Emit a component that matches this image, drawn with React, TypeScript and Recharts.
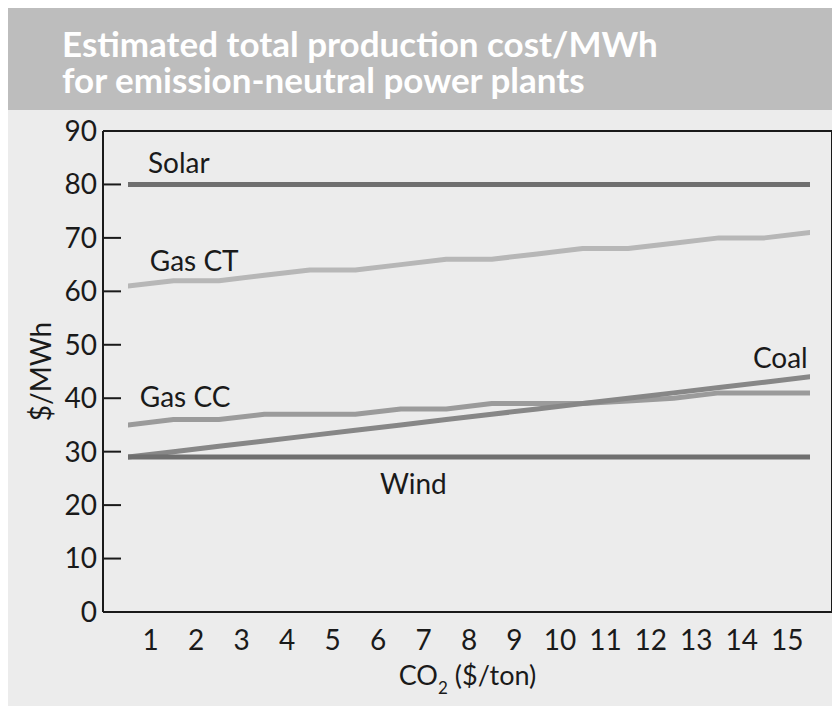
import React from 'react';
import { LineChart, Line, XAxis, YAxis, ReferenceDot } from 'recharts';

// x positions of the plotted points (one per tick mark)
const co2Steps = [0, 1, 2, 3, 4, 5, 6, 7, 8, 9, 10, 11, 12, 13, 14, 15];
// tick labels sit between the tick marks
const xTickLabels = ['1', '2', '3', '4', '5', '6', '7', '8', '9', '10', '11', '12', '13', '14', '15'];
const yTicks = [0, 10, 20, 30, 40, 50, 60, 70, 80, 90];

const solar = [80, 80, 80, 80, 80, 80, 80, 80, 80, 80, 80, 80, 80, 80, 80, 80];
const gasCT = [61, 62, 62, 63, 64, 64, 65, 66, 66, 67, 68, 68, 69, 70, 70, 71];
const gasCC = [35, 36, 36, 37, 37, 37, 38, 38, 39, 39, 39, 39.5, 40, 41, 41, 41];
const coal = [29, 30, 31, 32, 33, 34, 35, 36, 37, 38, 39, 40, 41, 42, 43, 44];
const wind = [29, 29, 29, 29, 29, 29, 29, 29, 29, 29, 29, 29, 29, 29, 29, 29];

// series names written on the chart, in data units
const annotations = [
  { text: 'Solar', x: 0.44, y: 84, side: 'right' },
  { text: 'Gas CT', x: 0.48, y: 65.7, side: 'right' },
  { text: 'Gas CC', x: 0.26, y: 40.2, side: 'right' },
  { text: 'Coal', x: 14.95, y: 47.6, side: 'left' },
  { text: 'Wind', x: 5.54, y: 23.9, side: 'right' },
];

const data = co2Steps.map((step, i) => ({
  step,
  solar: solar[i],
  gasCT: gasCT[i],
  gasCC: gasCC[i],
  coal: coal[i],
  wind: wind[i],
}));

const labelTicks = xTickLabels.map((_, i) => i + 0.5);

const INK = '#1a1a1a';
const axisStroke = { stroke: INK, strokeWidth: 2 };
const xPadding = { left: 25, right: 22 };

export default function App() {
  return (
    <div
      style={{
        position: 'relative',
        width: 832,
        height: 698,
        background: '#ececec',
        fontFamily: 'Lato, sans-serif',
        overflow: 'hidden',
      }}
    >
      <div style={{ position: 'absolute', left: 0, top: 0, width: 832, height: 102, background: '#bdbdbd' }} />
      <div
        style={{
          position: 'absolute',
          left: 54,
          top: 17,
          color: '#ffffff',
          fontWeight: 700,
          fontSize: 35,
          lineHeight: '36px',
          whiteSpace: 'nowrap',
        }}
      >
        Estimated total production cost/MWh
        <br />
        for emission-neutral power plants
      </div>
      <div style={{ position: 'absolute', left: 0, top: 102 }}>
        <LineChart width={832} height={596} data={data} margin={{ top: 20, right: 7, bottom: 33, left: 94 }}>
          <XAxis
            dataKey="step"
            type="number"
            domain={[0, 15]}
            ticks={co2Steps}
            padding={xPadding}
            height={1}
            tick={false}
            tickSize={-12}
            tickLine={axisStroke}
            axisLine={axisStroke}
            allowDataOverflow
          />
          <XAxis
            xAxisId="lab"
            type="number"
            domain={[0, 15]}
            ticks={labelTicks}
            padding={xPadding}
            height={60}
            interval={0}
            tickLine={false}
            axisLine={false}
            tickMargin={11}
            tickFormatter={(v: number) => xTickLabels[Math.round(v - 0.5)]}
            tick={{ fill: INK, fontSize: 28 }}
            allowDataOverflow
            label={{
              content: ({ viewBox }: any) => (
                <text
                  x={viewBox.x + viewBox.width / 2}
                  y={viewBox.y + 72}
                  textAnchor="middle"
                  fill={INK}
                  fontSize={27}
                >
                  CO
                  <tspan fontSize={17} dy={9}>2</tspan>
                  <tspan dy={-9}> ($/ton)</tspan>
                </text>
              ),
            }}
          />
          <XAxis
            xAxisId="top"
            orientation="top"
            type="number"
            domain={[0, 15]}
            height={1}
            tick={false}
            tickLine={false}
            axisLine={axisStroke}
            allowDataOverflow
          />
          <YAxis
            type="number"
            domain={[0, 90]}
            ticks={yTicks}
            interval={0}
            width={1}
            tickSize={-18}
            tickMargin={24}
            tickLine={axisStroke}
            axisLine={axisStroke}
            tick={{ fill: INK, fontSize: 28 }}
            label={{
              content: ({ viewBox }: any) => {
                const cx = viewBox.x - 62;
                const cy = viewBox.y + viewBox.height / 2;
                return (
                  <text
                    x={cx}
                    y={cy}
                    transform={`rotate(-90 ${cx} ${cy})`}
                    textAnchor="middle"
                    dominantBaseline="central"
                    fill={INK}
                    fontSize={28}
                  >
                    $/MWh
                  </text>
                );
              },
            }}
          />
          <YAxis
            yAxisId="right"
            orientation="right"
            type="number"
            domain={[0, 90]}
            width={1}
            tick={false}
            tickLine={false}
            axisLine={axisStroke}
          />
          <Line type="linear" dataKey="solar" stroke="#6f6f6f" strokeWidth={5} strokeLinecap="round" dot={false} isAnimationActive={false} />
          <Line type="linear" dataKey="gasCT" stroke="#b7b7b7" strokeWidth={5} strokeLinecap="round" strokeLinejoin="round" dot={false} isAnimationActive={false} />
          <Line type="linear" dataKey="gasCC" stroke="#9b9b9b" strokeWidth={5} strokeLinecap="round" strokeLinejoin="round" dot={false} isAnimationActive={false} />
          <Line type="linear" dataKey="coal" stroke="#878787" strokeWidth={5} strokeLinecap="round" dot={false} isAnimationActive={false} />
          <Line type="linear" dataKey="wind" stroke="#6f6f6f" strokeWidth={5} strokeLinecap="round" dot={false} isAnimationActive={false} />
          {annotations.map((a) => (
            <ReferenceDot
              key={a.text}
              x={a.x}
              y={a.y}
              r={0}
              fill="none"
              stroke="none"
              label={{ value: a.text, position: a.side, offset: 0, fill: INK, fontSize: 28 }}
            />
          ))}
        </LineChart>
      </div>
    </div>
  );
}
